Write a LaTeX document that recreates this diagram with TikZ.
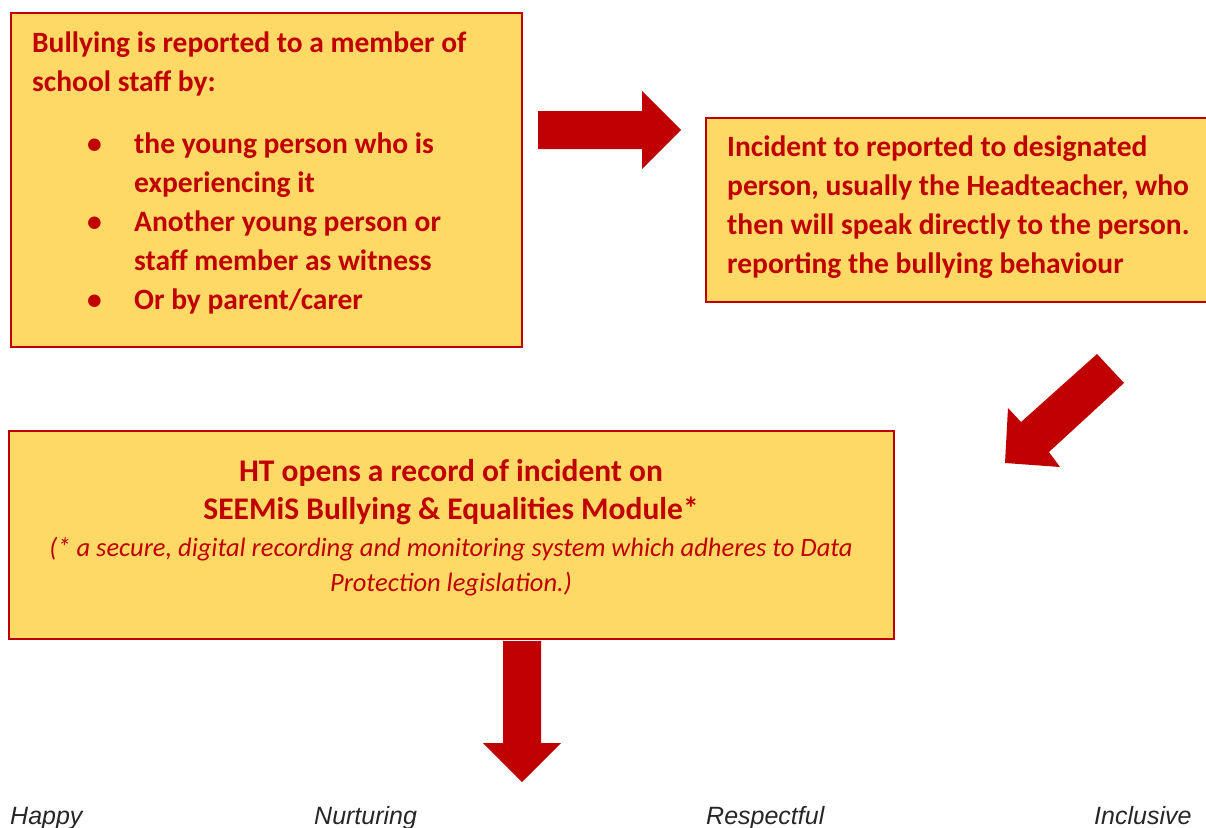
\documentclass[tikz,border=0pt]{standalone}
\usepackage{fontspec}
\setmainfont{Carlito}
\newfontfamily\mottofont{Liberation Sans}
\usetikzlibrary{positioning}

\definecolor{boxred}{HTML}{C00000}
\definecolor{boxgold}{HTML}{FFD966}
\newcommand{\listbullet}{\hspace*{55pt}\makebox[47pt][l]{\textbullet}}

\begin{document}
\begin{tikzpicture}[x=1pt, y=-1pt,
  box/.style={draw=boxred, line width=2pt, fill=boxgold, anchor=north west, inner sep=0pt},
  boxtext/.style={text=boxred, font=\fontsize{29.5}{39}\selectfont\bfseries, align=left, inner sep=0pt, anchor=north west},
  blockarrow/.style={fill=boxred},
  motto/.style={font=\mottofont\itshape\fontsize{25}{28}\selectfont, text=black!85, anchor=base west, inner sep=0pt}]
  \useasboundingbox (0,0) rectangle (1206,827);

  \node[box, minimum width=511pt, minimum height=334pt] (report) at (10,12) {};
  \node[boxtext] (reporttext) at (32,32) {Bullying is reported to a member of\\
    school staff by:\\[23pt]
    \listbullet the young person who is\\
    \hspace*{102pt}experiencing it\\
    \listbullet Another young person or\\
    \hspace*{102pt}staff member as witness\\
    \listbullet Or by parent/carer};

  \node[box, minimum width=505pt, minimum height=184pt] (designated) at (705,117) {};
  \node[boxtext] (designatedtext) at (727,136) {Incident to reported to designated\\
    person, usually the Headteacher, who\\
    then will speak directly to the person.\\
    reporting the bullying behaviour};

  \node[box, minimum width=885pt, minimum height=208pt] (record) at (8,430) {};
  \node[text=boxred, font=\fontsize{31.5}{38}\selectfont\bfseries, align=center, inner sep=0pt, anchor=north] (recordtitle) at (451,459) {HT opens a record of incident on\\
    SEEMiS Bullying \& Equalities Module*};
  \node[text=boxred, font=\fontsize{26.5}{35}\selectfont\itshape, align=center, inner sep=0pt, anchor=north] (recordnote) at (451,537) {(* a secure, digital recording and monitoring system which adheres to Data\\
    Protection legislation.)};

  % block arrows
  \fill[blockarrow] (538,111) -- (642,111) -- (642,91) -- (681,130) -- (642,169) -- (642,149) -- (538,149) -- cycle;
  \fill[blockarrow] (1097,354) -- (1124,383) -- (1049,452) -- (1060,467) -- (1005,463) -- (1008,408) -- (1021,422) -- cycle;
  \fill[blockarrow] (503,641) -- (541,641) -- (541,743) -- (561,743) -- (522,782) -- (483,743) -- (503,743) -- cycle;

  \node[motto] (happy) at (10,824) {Happy};
  \node[motto] (nurturing) at (314,824) {Nurturing};
  \node[motto] (respectful) at (706,824) {Respectful};
  \node[motto] (inclusive) at (1094,824) {Inclusive};
\end{tikzpicture}
\end{document}
